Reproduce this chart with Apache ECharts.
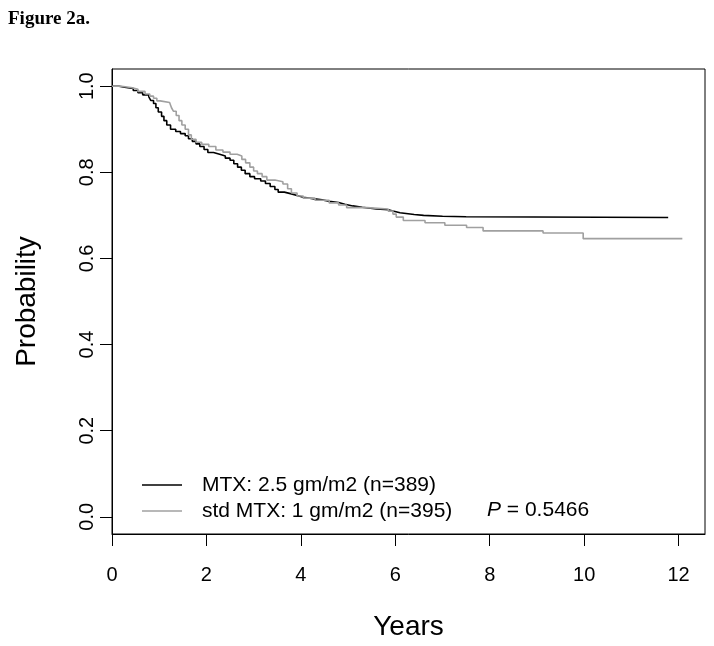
<!DOCTYPE html>
<html>
<head>
<meta charset="utf-8">
<script src="https://cdn.jsdelivr.net/npm/echarts@6/dist/echarts.min.js"></script>
<style>
html,body{margin:0;padding:0;background:#fff;}
#chart{width:714px;height:646px;}
</style>
</head>
<body>
<div id="chart"></div>
<script>
// Kaplan-Meier curves (years, survival probability)
var hdTimes = [0,0.15,0.3,0.45,0.55,0.65,0.78,0.82,0.88,0.93,0.98,1.05,1.10,1.16,1.24,1.35,1.45,1.55,1.62,1.70,1.78,1.86,1.95,2.03,2.15,2.28,2.40,2.50,2.58,2.66,2.74,2.82,2.92,3.02,3.15,3.25,3.35,3.45,3.52,3.65,3.80,3.92,4.05,4.25,4.45,4.60,4.80,4.93,5.10,5.30,5.60,5.85,5.95,6.10,6.40,6.60,7.00,7.50,11.78];
var hdSurv  = [1.0,0.997,0.995,0.99,0.985,0.98,0.975,0.967,0.96,0.95,0.94,0.93,0.92,0.91,0.90,0.895,0.89,0.885,0.878,0.872,0.866,0.86,0.853,0.846,0.842,0.838,0.833,0.828,0.82,0.812,0.805,0.797,0.79,0.785,0.78,0.774,0.767,0.76,0.754,0.75,0.746,0.742,0.739,0.736,0.733,0.73,0.726,0.722,0.719,0.715,0.713,0.71,0.706,0.702,0.70,0.698,0.697,0.695,0.695];

var stdTimes = [0,0.2,0.4,0.55,0.7,0.8,0.88,0.95,1.02,1.22,1.26,1.30,1.36,1.42,1.48,1.55,1.62,1.68,1.78,1.90,2.05,2.20,2.35,2.50,2.65,2.75,2.83,2.92,3.00,3.08,3.18,3.28,3.45,3.62,3.72,3.80,3.92,4.05,4.30,4.60,4.80,4.97,5.40,5.85,5.95,6.02,6.17,6.63,7.05,7.51,7.86,9.13,9.98,12.08];
var stdSurv  = [1.0,0.997,0.993,0.988,0.982,0.977,0.972,0.966,0.962,0.958,0.95,0.942,0.932,0.92,0.91,0.9,0.887,0.877,0.87,0.865,0.86,0.852,0.847,0.842,0.838,0.83,0.822,0.812,0.803,0.797,0.79,0.782,0.778,0.773,0.762,0.752,0.745,0.74,0.735,0.729,0.724,0.718,0.715,0.71,0.703,0.696,0.688,0.683,0.677,0.672,0.664,0.659,0.646,0.646];

var seriesNames = ['MTX: 2.5 gm/m2 (n=389)', 'std MTX: 1 gm/m2 (n=395)'];
var xTicks = [0,2,4,6,8,10,12];
var yTicks = [0,0.2,0.4,0.6,0.8,1.0];
var pValueText = '0.5466';

function pairs(t, s){ return t.map(function(v,i){ return [v, s[i]]; }); }

var FONT = 'Liberation Sans, Arial, sans-serif';
var chart = echarts.init(document.getElementById('chart'), null, {renderer:'canvas'});
chart.setOption({
  animation: false,
  backgroundColor: '#fff',
  grid: {left:112, top:69, right:9, bottom:108, show:true, borderColor:'#000', borderWidth:1, containLabel:false},
  xAxis: {
    type:'value', min:0, max:12.56,
    name:'Years', nameLocation:'middle', nameGap:79,
    nameTextStyle:{fontFamily:FONT, fontSize:28, color:'#000'},
    axisLine:{show:true, onZero:false, lineStyle:{color:'#000', width:1}},
    axisTick:{show:true, length:12, inside:false, customValues:xTicks, lineStyle:{color:'#000', width:1}},
    axisLabel:{customValues:xTicks, margin:31, fontFamily:FONT, fontSize:20, color:'#000'},
    splitLine:{show:false}
  },
  yAxis: {
    type:'value', min:-0.04, max:1.04,
    name:'Probability', nameLocation:'middle', nameGap:71,
    nameTextStyle:{fontFamily:FONT, fontSize:28, color:'#000'},
    axisLine:{show:true, onZero:false, lineStyle:{color:'#000', width:1}},
    axisTick:{show:true, length:12, inside:false, customValues:yTicks, lineStyle:{color:'#000', width:1}},
    axisLabel:{customValues:yTicks, rotate:90, margin:15, fontFamily:FONT, fontSize:20, color:'#000',
      formatter:function(v){ return v.toFixed(1); }},
    splitLine:{show:false}
  },
  legend: {
    orient:'vertical', left:142, top:474, padding:0, itemWidth:40, itemHeight:1.6, itemGap:4,
    icon:'rect',
    textStyle:{fontFamily:FONT, fontSize:21, color:'#000', lineHeight:22, padding:[0,0,0,15]},
    data: seriesNames
  },
  graphic: [
    {type:'text', left:8, top:10, style:{text:'Figure 2a.', font:'bold 19px "Liberation Serif", "Times New Roman", serif', fill:'#000'}},
    {type:'text', left:487, top:500, style:{
      text:'{i|P} = ' + pValueText,
      rich:{i:{fontStyle:'italic', fontFamily:FONT, fontSize:21, fill:'#000'}},
      fontFamily:FONT, fontSize:21, fill:'#000'}}
  ],
  series: [
    {name:seriesNames[0], type:'line', step:'end', showSymbol:false, data:pairs(hdTimes, hdSurv),
     lineStyle:{color:'#000', width:1.6}, itemStyle:{color:'#000'}},
    {name:seriesNames[1], type:'line', step:'end', showSymbol:false, data:pairs(stdTimes, stdSurv),
     lineStyle:{color:'#a0a0a0', width:1.6}, itemStyle:{color:'#a0a0a0'}}
  ]
});
</script>
</body>
</html>
